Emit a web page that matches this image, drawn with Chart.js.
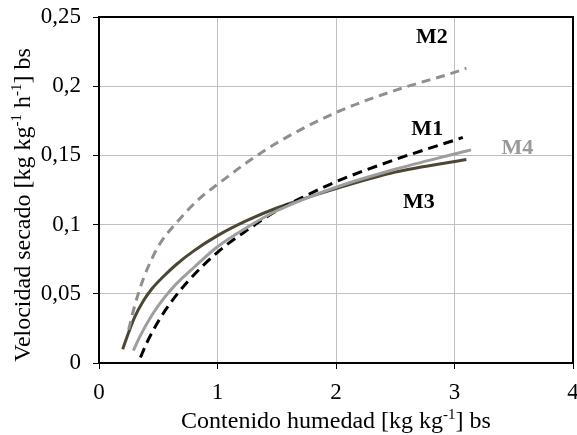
<!DOCTYPE html>
<html>
<head>
<meta charset="utf-8">
<script src="https://cdn.jsdelivr.net/npm/chart.js@4.4.1/dist/chart.umd.min.js"></script>
<style>
  html, body { margin: 0; padding: 0; background: #fff; }
  #wrap { width: 577px; height: 435px; }
</style>
</head>
<body>
<div id="wrap"><canvas id="c" width="577" height="435"></canvas></div>
<script>
// curves (moisture content vs drying rate)
const m1X = [0.35, 0.4, 0.5, 0.6, 0.75, 1, 1.25, 1.5, 1.75, 2, 2.5, 3, 3.07];
const m1Y = [0.004, 0.014, 0.030, 0.043, 0.059, 0.080, 0.096, 0.110, 0.121, 0.131, 0.147, 0.161, 0.163];
const m2X = [0.25, 0.3, 0.375, 0.45, 0.52, 0.65, 0.85, 1, 1.25, 1.5, 2, 2.5, 3, 3.1];
const m2Y = [0.024, 0.041, 0.061, 0.076, 0.087, 0.101, 0.119, 0.129, 0.145, 0.159, 0.181, 0.197, 0.210, 0.213];
const m3X = [0.2, 0.25, 0.3, 0.375, 0.45, 0.55, 0.65, 0.8, 1, 1.25, 1.5, 2, 2.5, 3.1];
const m3Y = [0.010, 0.022, 0.033, 0.045, 0.054, 0.063, 0.071, 0.081, 0.092, 0.103, 0.112, 0.126, 0.138, 0.147];
const m4X = [0.29, 0.35, 0.45, 0.55, 0.65, 0.8, 1, 1.25, 1.5, 2, 2.5, 3, 3.14];
const m4Y = [0.009, 0.020, 0.035, 0.047, 0.057, 0.069, 0.084, 0.098, 0.110, 0.127, 0.140, 0.151, 0.154];

const xTicks = ['0', '1', '2', '3', '4'];
const yTicks = ['0', '0,05', '0,1', '0,15', '0,2', '0,25'];

const seriesNames = ['M1', 'M2', 'M3', 'M4'];

function pts(xs, ys) {
  return xs.map((x, i) => ({ x: x, y: ys[i] }));
}

const serif = "'Liberation Serif', 'Times New Roman', serif";

// box around the plot
const framePlugin = {
  id: 'frame',
  afterDraw(chart) {
    const { ctx, chartArea: a } = chart;
    ctx.save();
    ctx.strokeStyle = '#000';
    ctx.lineWidth = 2;
    ctx.strokeRect(a.left, a.top, a.right - a.left, a.bottom - a.top);
    ctx.restore();
  }
};

// axis titles with superscripts
const titlesPlugin = {
  id: 'titles',
  afterDraw(chart) {
    const { ctx } = chart;
    ctx.save();
    ctx.fillStyle = '#000';
    ctx.textBaseline = 'alphabetic';
    const big = '24px ' + serif;
    const small = '15px ' + serif;
    function run(parts) {
      let w = 0;
      parts.forEach(p => { ctx.font = p[1] ? small : big; w += ctx.measureText(p[0]).width; });
      return w;
    }
    function draw(parts, x0, y0) {
      let x = x0;
      parts.forEach(p => {
        ctx.font = p[1] ? small : big;
        ctx.fillText(p[0], x, p[1] ? y0 - 9 : y0);
        x += ctx.measureText(p[0]).width;
      });
    }
    const xt = [['Contenido humedad [kg kg', 0], ['-1', 1], ['] bs', 0]];
    const wx = run(xt);
    draw(xt, 336 - wx / 2, 428);

    const yt = [['Velocidad secado [kg kg', 0], ['-1', 1], [' h', 0], ['-1', 1], ['] bs', 0]];
    const wy = run(yt);
    ctx.translate(30, 205);
    ctx.rotate(-Math.PI / 2);
    draw(yt, -wy / 2, 0);
    ctx.restore();
  }
};

const labelsPlugin = {
  id: 'curveLabels',
  afterDatasetsDraw(chart) {
    const { ctx, scales } = chart;
    const spots = [
      { t: 'M2', x: 2.81, y: 0.235, c: '#000' },
      { t: 'M1', x: 2.77, y: 0.169, c: '#000' },
      { t: 'M4', x: 3.53, y: 0.155, c: '#999999' },
      { t: 'M3', x: 2.7, y: 0.116, c: '#000' }
    ];
    ctx.save();
    ctx.font = 'bold 22px ' + serif;
    ctx.textAlign = 'center';
    ctx.textBaseline = 'middle';
    spots.forEach(s => {
      ctx.fillStyle = s.c;
      ctx.fillText(s.t, scales.x.getPixelForValue(s.x), scales.y.getPixelForValue(s.y));
    });
    ctx.restore();
  }
};

// keep the plot box where the figure has it, ignore label overhang
function fixPad(s) {
  s.paddingTop = 0; s.paddingBottom = 0; s.paddingLeft = 0; s.paddingRight = 0;
}

new Chart(document.getElementById('c'), {
  type: 'line',
  data: {
    datasets: [
      { label: seriesNames[1], data: pts(m2X, m2Y), borderColor: '#8f8f8f', borderWidth: 3, borderDash: [9, 6], pointRadius: 0, cubicInterpolationMode: 'monotone' },
      { label: seriesNames[3], data: pts(m4X, m4Y), borderColor: '#9e9e9e', borderWidth: 3, pointRadius: 0, cubicInterpolationMode: 'monotone' },
      { label: seriesNames[0], data: pts(m1X, m1Y), borderColor: '#000', borderWidth: 3, borderDash: [10, 6], pointRadius: 0, cubicInterpolationMode: 'monotone' },
      { label: seriesNames[2], data: pts(m3X, m3Y), borderColor: '#4b4733', borderWidth: 3, pointRadius: 0, cubicInterpolationMode: 'monotone' }
    ]
  },
  options: {
    responsive: false,
    animation: false,
    layout: { padding: { left: 0, right: 4, top: 17, bottom: 0 } },
    plugins: { legend: { display: false }, tooltip: { enabled: false } },
    scales: {
      x: {
        type: 'linear', min: 0, max: 4,
        afterFit: s => { s.height = 72; fixPad(s); },
        ticks: { stepSize: 1, color: '#000', font: { family: serif, size: 23 }, padding: 10, callback: (v, i) => xTicks[i] },
        grid: { color: '#bfbfbf', lineWidth: 1, tickColor: '#000', tickLength: 6 },
        border: { color: '#000', width: 2 }
      },
      y: {
        type: 'linear', min: 0, max: 0.25,
        afterFit: s => { s.width = 99; fixPad(s); },
        ticks: { stepSize: 0.05, color: '#000', font: { family: serif, size: 23 }, padding: 12, callback: (v, i) => yTicks[i] },
        grid: { color: '#bfbfbf', lineWidth: 1, tickColor: '#000', tickLength: 6 },
        border: { color: '#000', width: 2 }
      }
    }
  },
  plugins: [framePlugin, titlesPlugin, labelsPlugin]
});
</script>
</body>
</html>
